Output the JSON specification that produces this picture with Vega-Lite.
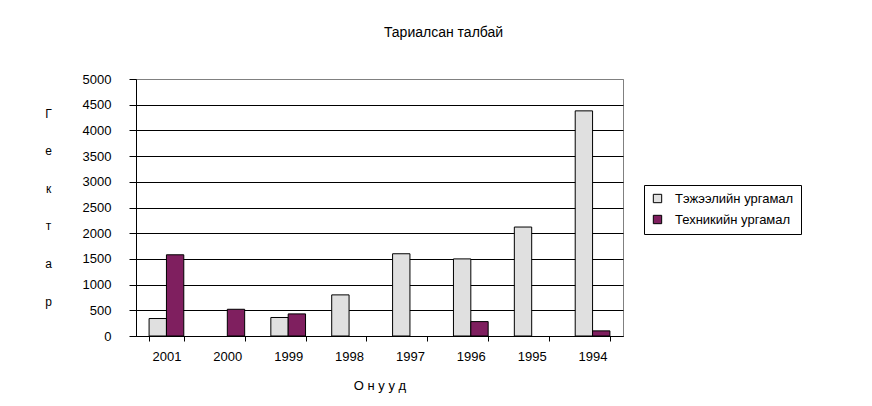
{
  "$schema": "https://vega.github.io/schema/vega-lite/v6.json",
  "width": 487,
  "height": 257,
  "autosize": {"type": "none"},
  "padding": {"left": 136, "top": 79, "right": 249, "bottom": 70},
  "background": "white",
  "title": {
    "text": "Тариалсан талбай",
    "fontSize": 14,
    "font": "Liberation Sans",
    "fontWeight": "normal",
    "color": "black",
    "anchor": "middle",
    "dx": 64,
    "offset": 33
  },
  "data": {
    "values": [
      {"year": "2001", "series": "Тэжээлийн ургамал", "value": 340},
      {"year": "2001", "series": "Техникийн ургамал", "value": 1580},
      {"year": "2000", "series": "Техникийн ургамал", "value": 520},
      {"year": "1999", "series": "Тэжээлийн ургамал", "value": 360},
      {"year": "1999", "series": "Техникийн ургамал", "value": 430},
      {"year": "1998", "series": "Тэжээлийн ургамал", "value": 800},
      {"year": "1997", "series": "Тэжээлийн ургамал", "value": 1600},
      {"year": "1996", "series": "Тэжээлийн ургамал", "value": 1500},
      {"year": "1996", "series": "Техникийн ургамал", "value": 280},
      {"year": "1995", "series": "Тэжээлийн ургамал", "value": 2120},
      {"year": "1994", "series": "Тэжээлийн ургамал", "value": 4380},
      {"year": "1994", "series": "Техникийн ургамал", "value": 100}
    ]
  },
  "mark": {"type": "bar", "stroke": "black", "strokeWidth": 1},
  "encoding": {
    "x": {
      "field": "year",
      "type": "nominal",
      "sort": ["2001", "2000", "1999", "1998", "1997", "1996", "1995", "1994"],
      "scale": {"paddingInner": 0.43, "paddingOuter": 0.215},
      "axis": {
        "title": "О н у у д",
        "titleFontSize": 13,
        "titleFontWeight": "normal",
        "titleColor": "black",
        "titleY": 49,
        "titleBaseline": "middle",
        "labelAngle": 0,
        "labelFontSize": 13,
        "labelColor": "black",
        "labelPadding": 9,
        "tickBand": "extent",
        "tickSize": 5,
        "tickColor": "black",
        "domainColor": "black",
        "grid": false
      }
    },
    "xOffset": {
      "field": "series",
      "type": "nominal",
      "sort": ["Тэжээлийн ургамал", "Техникийн ургамал"]
    },
    "y": {
      "field": "value",
      "type": "quantitative",
      "scale": {"domain": [0, 5000], "nice": false},
      "axis": {
        "values": [0, 500, 1000, 1500, 2000, 2500, 3000, 3500, 4000, 4500, 5000],
        "format": "d",
        "title": ["Г", "е", "к", "т", "а", "р"],
        "titleAngle": 0,
        "titleX": -88,
        "titleY": 29,
        "titleBaseline": "top",
        "titleAlign": "center",
        "titleLineHeight": 37.6,
        "titleFontSize": 12,
        "titleFontWeight": "normal",
        "titleColor": "black",
        "labelFontSize": 13,
        "labelColor": "black",
        "labelPadding": 18,
        "tickSize": 7,
        "tickColor": "black",
        "domainColor": "black",
        "grid": true,
        "gridColor": {"condition": {"test": "datum.value === 5000", "value": "#808080"}, "value": "black"},
        "gridOpacity": 1
      }
    },
    "color": {
      "field": "series",
      "type": "nominal",
      "scale": {
        "domain": ["Тэжээлийн ургамал", "Техникийн ургамал"],
        "range": ["#E0E0E0", "#7F1F5F"]
      },
      "legend": {
        "orient": "none",
        "legendX": 508,
        "legendY": 106,
        "title": null,
        "strokeColor": "black",
        "fillColor": "white",
        "padding": 7,
        "symbolType": "square",
        "symbolSize": 70,
        "symbolStrokeColor": "black",
        "symbolStrokeWidth": 1,
        "symbolOpacity": 1,
        "labelFontSize": 13,
        "labelColor": "black",
        "labelOffset": 11,
        "rowPadding": 7
      }
    }
  },
  "config": {
    "font": "Liberation Sans",
    "view": {"stroke": "#808080"}
  }
}
